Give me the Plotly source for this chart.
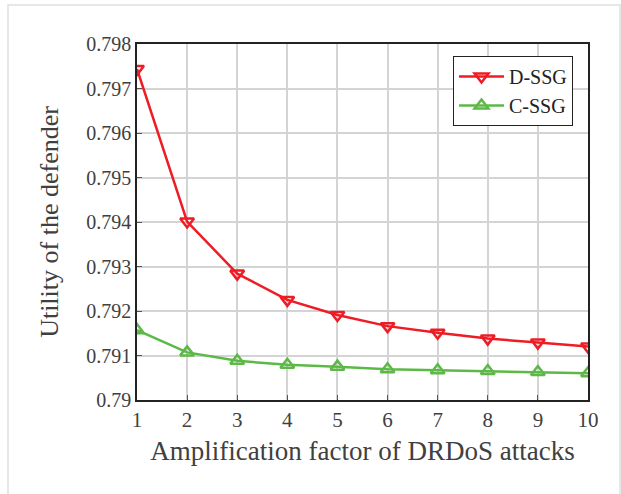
import plotly.graph_objects as go

x_vals = [1, 2, 3, 4, 5, 6, 7, 8, 9, 10]
d_ssg = [0.79744, 0.79401, 0.79284, 0.79225, 0.79191, 0.79166, 0.79151, 0.79138, 0.79129, 0.79120]
c_ssg = [0.79157, 0.79107, 0.79088, 0.79079, 0.79075, 0.79069, 0.79067, 0.79065, 0.79063, 0.79060]
y_ticks = [0.79, 0.791, 0.792, 0.793, 0.794, 0.795, 0.796, 0.797, 0.798]
y_tick_text = ["0.79", "0.791", "0.792", "0.793", "0.794", "0.795", "0.796", "0.797", "0.798"]

FONT = "Liberation Serif, Times New Roman, serif"
red = "#ee1c24"
green = "#5cb946"

fig = go.Figure()
fig.add_trace(go.Scatter(x=x_vals, y=d_ssg, name="D-SSG", mode="lines+markers",
                         line=dict(color=red, width=2.5),
                         marker=dict(symbol="triangle-down-open", size=12, color=red,
                                     line=dict(width=2.5, color=red))))
fig.add_trace(go.Scatter(x=x_vals, y=c_ssg, name="C-SSG", mode="lines+markers",
                         line=dict(color=green, width=2.5),
                         marker=dict(symbol="triangle-up-open", size=12, color=green,
                                     line=dict(width=2.5, color=green))))

L, R, T, B = 137, 33, 44, 94
PW = 621 - L - R
PH = 494 - T - B

fig.update_layout(
    width=621, height=494,
    margin=dict(l=L, r=R, t=T, b=B),
    paper_bgcolor="white", plot_bgcolor="white",
    font=dict(family=FONT, color="#404040", size=18),
    showlegend=True,
    legend=dict(x=(573 - L) / PW, xanchor="right", y=1 - (56 - T) / PH, yanchor="top",
                bgcolor="white", bordercolor="#222222", borderwidth=1,
                font=dict(family=FONT, size=20, color="#222222"),
                tracegroupgap=0, itemwidth=45),
    xaxis=dict(range=[1, 10], tickvals=x_vals, ticktext=[str(v) for v in x_vals],
               showgrid=True, gridcolor="#d4d4d4", gridwidth=1.5,
               showline=True, linecolor="#222222", linewidth=1.5, mirror=True,
               ticks="inside", ticklen=5, tickcolor="#555555",
               tickfont=dict(family=FONT, size=21, color="#404040"),
               title=dict(text="Amplification factor of DRDoS attacks",
                          font=dict(family=FONT, size=27, color="#404040"), standoff=10),
               zeroline=False),
    yaxis=dict(range=[0.79, 0.798], tickvals=y_ticks, ticktext=y_tick_text,
               showgrid=True, gridcolor="#d4d4d4", gridwidth=2,
               showline=True, linecolor="#222222", linewidth=1.5, mirror=True,
               ticks="inside", ticklen=5, tickcolor="#555555",
               tickfont=dict(family=FONT, size=20, color="#404040"),
               title=dict(text="Utility of the defender",
                          font=dict(family=FONT, size=26, color="#404040"), standoff=20),
               zeroline=False),
)

# light frame around the figure
fig.add_shape(type="rect", xref="paper", yref="paper",
              x0=(8 - L) / PW, x1=(620 - L) / PW, y0=-2, y1=1 + (T - 5) / PH,
              line=dict(color="#e0e0e0", width=1.5), fillcolor="rgba(0,0,0,0)", layer="below")

fig.write_html("out.html")
